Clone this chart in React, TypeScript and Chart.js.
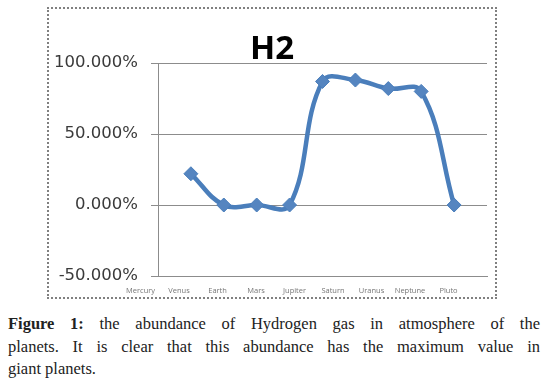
import React, { useEffect, useRef } from "react";
import { Chart, registerables } from "chart.js";

Chart.register(...registerables);

// ---- data ----
const categories = ["Mercury", "Venus", "Earth", "Mars", "Jupiter", "Saturn", "Uranus", "Neptune", "Pluto"];
const h2Values = [0.22, 0.0, 0.0, 0.0, 0.87, 0.88, 0.82, 0.8, 0.0];
const yTickValues = [-0.5, 0, 0.5, 1.0];
const chartTitle = "H2";
const captionLines = [
  ["Figure 1:", " the abundance of Hydrogen gas in atmosphere of the"],
  ["", "planets. It is clear that this abundance has the maximum value in"],
  ["", "giant planets."],
];

export default function App() {
  const ref = useRef<HTMLCanvasElement | null>(null);

  useEffect(() => {
    if (!ref.current) return;
    const grey = "#8c8c8c";
    const chart = new Chart(ref.current, {
      type: "line",
      data: {
        datasets: [
          {
            label: chartTitle,
            data: h2Values.map((v, i) => ({ x: i + 1, y: v })),
            borderColor: "#4a7ebb",
            backgroundColor: "#4a7ebb",
            borderWidth: 4.5,
            tension: 0.4,
            pointStyle: "rectRot",
            pointRadius: 7,
            pointBorderWidth: 1,
            pointBorderColor: "#4a7ebb",
            pointBackgroundColor: "#5585c0",
            clip: false as any,
          },
        ],
      },
      options: {
        responsive: false,
        animation: false,
        layout: { padding: { left: 0, right: 0, top: 0, bottom: 0 } },
        plugins: {
          legend: { display: false },
          tooltip: { enabled: false },
          title: {
            display: true,
            text: chartTitle,
            color: "#000",
            font: { family: "Open Sans", size: 33, weight: "bold" },
            padding: { top: 21, bottom: -6.6 },
          },
        },
        scales: {
          x: {
            type: "linear",
            min: 0,
            max: 10,
            afterBuildTicks: (s: any) => {
              s.ticks = categories.map((_, i) => ({ value: -0.53 + 1.17 * i }));
            },
            afterFit: (s: any) => {
              s.height = 21;
              s.paddingLeft = 0;
              s.paddingRight = 0;
            },
            ticks: {
              autoSkip: false,
              maxRotation: 0,
              minRotation: 0,
              padding: 2,
              color: "#777",
              font: { family: "Open Sans", size: 7.5 },
              callback: (_v: any, i: number) => categories[i],
            },
            grid: { display: false },
            border: { display: true, color: grey, width: 1 },
          },
          y: {
            min: -0.5,
            max: 1.0,
            afterBuildTicks: (s: any) => {
              s.ticks = yTickValues.map((v) => ({ value: v }));
            },
            afterFit: (s: any) => {
              s.width = 109;
              s.paddingTop = 0;
              s.paddingBottom = 0;
            },
            ticks: {
              padding: 13,
              color: "#3a3a3a",
              font: { family: "DejaVu Sans", size: 16.5 },
              callback: (v: any) => (Number(v) * 100).toFixed(3) + "%",
            },
            grid: { color: grey, lineWidth: 1, tickLength: 7 },
            border: { display: true, color: grey, width: 1 },
          },
        },
      },
    });
    return () => chart.destroy();
  }, []);

  return (
    <div>
      <div
        style={{
          position: "absolute",
          left: 47,
          top: 7,
          width: 446,
          height: 288,
          border: "2px dotted #808080",
        }}
      >
        <canvas ref={ref} width={446} height={288} style={{ display: "block" }} />
      </div>
      <div
        style={{
          position: "absolute",
          left: 8,
          top: 313,
          width: 532,
          fontFamily: "'Liberation Serif', serif",
          fontSize: 16.5,
          lineHeight: "22.5px",
          color: "#222",
        }}
      >
        {captionLines.map((line, i) => (
          <div
            key={i}
            style={{
              textAlign: "justify",
              textAlignLast: i < captionLines.length - 1 ? "justify" : "left",
            } as any}
          >
            {line[0] ? <b>{line[0]}</b> : null}
            {line[1]}
          </div>
        ))}
      </div>
    </div>
  );
}
